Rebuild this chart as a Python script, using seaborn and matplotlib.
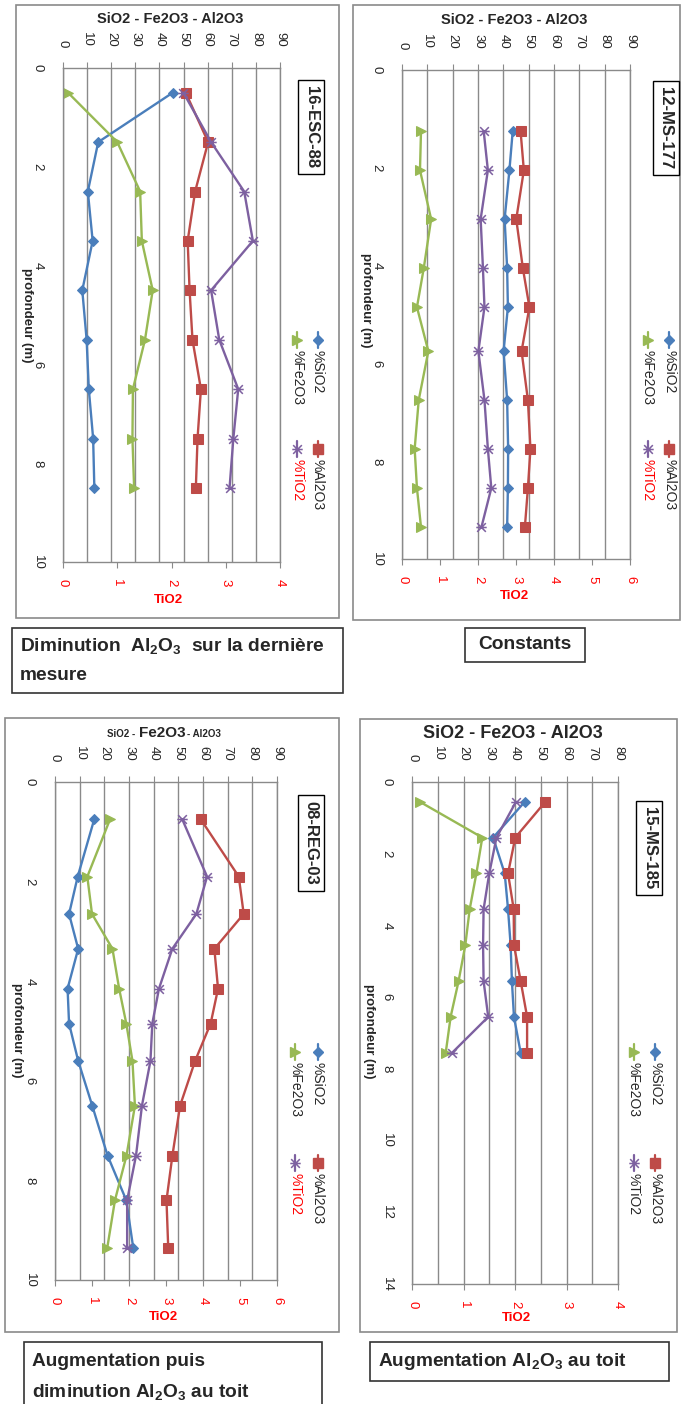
import numpy as np
import matplotlib
matplotlib.use("Agg")
import matplotlib.pyplot as plt
import seaborn as sns
from matplotlib import font_manager
from matplotlib.lines import Line2D
from matplotlib.patches import Rectangle
from matplotlib.path import Path

W, H = 682, 1404

# 16-ESC-88
esc88_depth = [0.5, 1.5, 2.5, 3.5, 4.5, 5.5, 6.5, 7.5, 8.5]
esc88_sio2 = [45.5, 14.6, 10.3, 12.3, 8.0, 9.8, 10.7, 12.5, 13.0]
esc88_al2o3 = [50.9, 60.2, 54.8, 51.7, 52.5, 53.7, 57.2, 55.8, 55.1]
esc88_fe2o3 = [2.1, 22.5, 32.0, 32.7, 37.2, 34.0, 29.0, 28.8, 29.5]
esc88_tio2 = [2.22, 2.73, 3.34, 3.50, 2.73, 2.88, 3.23, 3.14, 3.07]

# 12-MS-177
ms177_depth = [1.25, 2.05, 3.05, 4.05, 4.85, 5.75, 6.75, 7.75, 8.55, 9.35]
ms177_sio2 = [43.7, 42.4, 40.5, 41.5, 41.8, 40.1, 41.5, 41.9, 41.8, 41.5]
ms177_al2o3 = [46.8, 48.1, 45.1, 47.7, 50.3, 47.2, 49.7, 50.7, 49.7, 48.5]
ms177_fe2o3 = [7.5, 7.1, 11.5, 8.6, 5.9, 10.4, 6.6, 5.0, 5.9, 7.5]
ms177_tio2 = [2.15, 2.26, 2.07, 2.13, 2.17, 2.01, 2.17, 2.26, 2.35, 2.09]

# 08-REG-03
reg03_depth = [0.75, 1.9, 2.65, 3.35, 4.15, 4.85, 5.6, 6.5, 7.5, 8.4, 9.35]
reg03_sio2 = [15.9, 9.2, 5.7, 9.4, 5.1, 5.7, 9.4, 15.1, 21.3, 28.9, 31.7]
reg03_al2o3 = [59.1, 74.5, 76.5, 64.6, 66.1, 63.1, 56.8, 50.7, 47.6, 45.2, 45.9]
reg03_fe2o3 = [22.3, 13.1, 15.0, 23.3, 26.0, 28.9, 31.4, 32.4, 29.0, 24.3, 21.2]
reg03_tio2 = [3.44, 4.11, 3.82, 3.17, 2.81, 2.63, 2.58, 2.35, 2.19, 1.95, 1.95]

# 15-MS-185
ms185_depth = [0.55, 1.55, 2.55, 3.55, 4.55, 5.55, 6.55, 7.55]
ms185_sio2 = [43.8, 31.5, 36.0, 37.3, 38.3, 38.8, 39.6, 42.2]
ms185_al2o3 = [51.8, 40.1, 37.3, 39.5, 39.6, 42.2, 44.7, 44.7]
ms185_fe2o3 = [3.0, 27.3, 25.0, 22.4, 20.7, 18.1, 15.0, 13.1]
ms185_tio2 = [2.02, 1.64, 1.50, 1.39, 1.38, 1.39, 1.48, 0.78]

C_SIO2 = "#4A7EBB"
C_AL = "#BE4B48"
C_FE = "#98B954"
C_TI = "#7D60A0"
GRID = "#8a8a8a"

# star marker (x with a bar), already turned like the chart
STAR = Path([(-1, -1), (1, 1), (-1, 1), (1, -1), (-1.2, 0), (1.2, 0)],
            [Path.MOVETO, Path.LINETO] * 3)

sns.set_style("white")
installed = {f.name for f in font_manager.fontManager.ttflist}
NARROW = "Liberation Sans Narrow" if "Liberation Sans Narrow" in installed else "Liberation Sans"
BOX_FS = 15 if NARROW == "Liberation Sans Narrow" else 13.8
plt.rcParams["font.family"] = ["Liberation Sans", "DejaVu Sans"]
plt.rcParams["mathtext.fontset"] = "custom"
plt.rcParams["mathtext.bf"] = NARROW + ":bold"
plt.rcParams["mathtext.rm"] = NARROW

panels = [
    dict(name="16-ESC-88", depth=esc88_depth, sio2=esc88_sio2, al2o3=esc88_al2o3,
         fe2o3=esc88_fe2o3, tio2=esc88_tio2, xmax=90, dmax=10, tmax=4,
         border=(16, 5, 339, 618), plot=(63, 68, 280, 562), title=(311, 127),
         xtitle=(170, 19, 10.5), ttl=(168, 600), prof=(27, 315),
         leg=(318, 297, 340, 449), ti_red=True),
    dict(name="12-MS-177", depth=ms177_depth, sio2=ms177_sio2, al2o3=ms177_al2o3,
         fe2o3=ms177_fe2o3, tio2=ms177_tio2, xmax=90, dmax=10, tmax=6,
         border=(353, 5, 680, 620), plot=(402, 70, 630, 559), title=(666, 128),
         xtitle=(514, 20, 10.5), ttl=(514, 596), prof=(366, 300),
         leg=(669, 648, 340, 449), ti_red=True),
    dict(name="08-REG-03", depth=reg03_depth, sio2=reg03_sio2, al2o3=reg03_al2o3,
         fe2o3=reg03_fe2o3, tio2=reg03_tio2, xmax=90, dmax=10, tmax=6,
         border=(5, 718, 339, 1332), plot=(55, 782, 277, 1280), title=(311, 843),
         xtitle=None, ttl=(163, 1317), prof=(17, 1030),
         leg=(318, 295, 1052, 1163), ti_red=True),
    dict(name="15-MS-185", depth=ms185_depth, sio2=ms185_sio2, al2o3=ms185_al2o3,
         fe2o3=ms185_fe2o3, tio2=ms185_tio2, xmax=80, dmax=14, tmax=4,
         border=(360, 719, 677, 1332), plot=(412, 782, 618, 1284), title=(649, 848),
         xtitle=(513, 734, 13), ttl=(516, 1318), prof=(369, 1031),
         leg=(655, 634, 1052, 1163), ti_red=False),
]


def fx(x):
    return x / W


def fy(y):
    return 1 - y / H


def ptext(fig, x, y, s, **kw):
    return fig.text(fx(x), fy(y), s, **kw)


def rect(fig, x0, y0, x1, y1, ec, lw):
    fig.add_artist(Rectangle((fx(x0), fy(y1)), (x1 - x0) / W, (y1 - y0) / H,
                             transform=fig.transFigure, fill=False, ec=ec, lw=lw))


def legend_key(fig, x, y, col, label, tcol, **mkw):
    fig.add_artist(Line2D([fx(x)] * 2, [fy(y - 8), fy(y + 8)],
                          transform=fig.transFigure, color=col, lw=1.6))
    fig.add_artist(Line2D([fx(x)], [fy(y)], transform=fig.transFigure,
                          ls="none", **mkw))
    ptext(fig, x, y + 10, label, rotation=-90, ha="center", va="top",
          fontsize=10, color=tcol)


def draw_panel(fig, p):
    rect(fig, *p["border"], ec=GRID, lw=1.2)
    x0, y0, x1, y1 = p["plot"]
    ax = fig.add_axes([fx(x0), fy(y1), (x1 - x0) / W, (y1 - y0) / H])
    ax2 = ax.twiny()

    series = [(p["sio2"], C_SIO2, "D", 5.5), (p["al2o3"], C_AL, "s", 6.5),
              (p["fe2o3"], C_FE, ">", 6.5)]
    for vals, col, mk, ms in series:
        sns.lineplot(x=vals, y=p["depth"], orient="y", sort=False, errorbar=None,
                     ax=ax, color=col, lw=1.7, marker=mk, markersize=ms,
                     markeredgecolor=col, markerfacecolor=col)
    sns.lineplot(x=p["tio2"], y=p["depth"], orient="y", sort=False, errorbar=None,
                 ax=ax2, color=C_TI, lw=1.7, marker=STAR, markersize=7.5,
                 markeredgecolor=C_TI, markerfacecolor="none", markeredgewidth=1.1)

    ax.set_xlim(0, p["xmax"])
    ax.set_ylim(p["dmax"], 0)
    ax2.set_xlim(0, p["tmax"])
    ax.set_xticks(np.arange(0, p["xmax"] + 1, 10))
    ax.set_yticks(np.arange(0, p["dmax"] + 1, 2))
    ax2.set_xticks(np.arange(0, p["tmax"] + 1, 1))
    ax.set_xlabel("")
    ax.set_ylabel("")
    ax2.set_xlabel("")
    ax.grid(axis="x", color=GRID, lw=1)
    ax.grid(axis="y", visible=False)
    ax.set_axisbelow(True)
    for s in ax.spines.values():
        s.set_color(GRID)
        s.set_linewidth(1)
    for s in ax2.spines.values():
        s.set_visible(False)

    ax.xaxis.tick_top()
    ax.tick_params(axis="x", top=True, bottom=False, labeltop=True, labelbottom=False,
                   direction="out", length=4, color=GRID, labelsize=9.5,
                   labelrotation=-90, pad=11)
    ax.tick_params(axis="y", direction="out", length=4, color=GRID, labelsize=9.5,
                   labelrotation=-90, pad=10)
    for lab in ax.get_yticklabels():
        lab.set_va("center")
    ax2.xaxis.tick_bottom()
    ax2.tick_params(axis="x", top=False, bottom=True, labeltop=False, labelbottom=True,
                    direction="out", length=4, color=GRID, labelsize=9.5,
                    labelcolor="red", labelrotation=-90, pad=8)

    # turned texts
    tx, ty = p["title"]
    ptext(fig, tx, ty, p["name"], rotation=-90, ha="center", va="center",
          fontsize=12, fontweight="bold",
          bbox=dict(boxstyle="square,pad=0.35", fc="white", ec="black", lw=1))
    px, py = p["prof"]
    ptext(fig, px, py, "profondeur (m)", rotation=-90, ha="center", va="center",
          fontsize=9.5, fontweight="bold")
    lx, ly = p["ttl"]
    ptext(fig, lx, ly, "TiO2", ha="center", va="center", fontsize=9.5,
          fontweight="bold", color="red")
    if p["xtitle"] is not None:
        xx, xy, fs = p["xtitle"]
        ptext(fig, xx, xy, "SiO2 - Fe2O3 - Al2O3", ha="center", va="center",
              fontsize=fs, fontweight="bold", color="#262626")

    c1, c2, r1, r2 = p["leg"]
    legend_key(fig, c1, r1, C_SIO2, "%SiO2", "#262626", marker="D", ms=5.5,
               color=C_SIO2)
    legend_key(fig, c1, r2, C_AL, "%Al2O3", "#262626", marker="s", ms=6.5,
               color=C_AL)
    legend_key(fig, c2, r1, C_FE, "%Fe2O3", "#262626", marker=">", ms=6.5,
               color=C_FE)
    legend_key(fig, c2, r2, C_TI, "%TiO2", "red" if p["ti_red"] else "#262626",
               marker=STAR, ms=7.5, mec=C_TI, mfc="none", mew=1.1)


fig = plt.figure(figsize=(W / 100, H / 100), dpi=100)

for p in panels:
    draw_panel(fig, p)

# mixed size axis title of 08-REG-03
ptext(fig, 107, 734, "SiO2 -", ha="left", va="center", fontsize=7,
      fontweight="bold", color="#262626")
ptext(fig, 139, 733, "Fe2O3", ha="left", va="center", fontsize=11,
      fontweight="bold", color="#262626")
ptext(fig, 187, 734, "- Al2O3", ha="left", va="center", fontsize=7,
      fontweight="bold", color="#262626")

# comment boxes
box_kw = dict(ha="left", va="center", fontsize=BOX_FS, fontweight="bold",
              family=[NARROW, "DejaVu Sans"])
rect(fig, 12, 628, 343, 693, ec="#333333", lw=1.2)
ptext(fig, 20, 646, r"Diminution  $\mathbf{Al_2O_3}$  sur la dernière", **box_kw)
ptext(fig, 20, 675, "mesure", **box_kw)

rect(fig, 465, 628, 585, 662, ec="#333333", lw=1.2)
ptext(fig, 525, 645, "Constants", **{**box_kw, "ha": "center"})

rect(fig, 24, 1342, 322, 1410, ec="#333333", lw=1.2)
ptext(fig, 32, 1362, "Augmentation puis", **box_kw)
ptext(fig, 32, 1392, r"diminution $\mathbf{Al_2O_3}$ au toit", **box_kw)

rect(fig, 370, 1342, 669, 1381, ec="#333333", lw=1.2)
ptext(fig, 378, 1362, r"Augmentation $\mathbf{Al_2O_3}$ au toit", **box_kw)

fig.savefig("out.png", dpi=100)
